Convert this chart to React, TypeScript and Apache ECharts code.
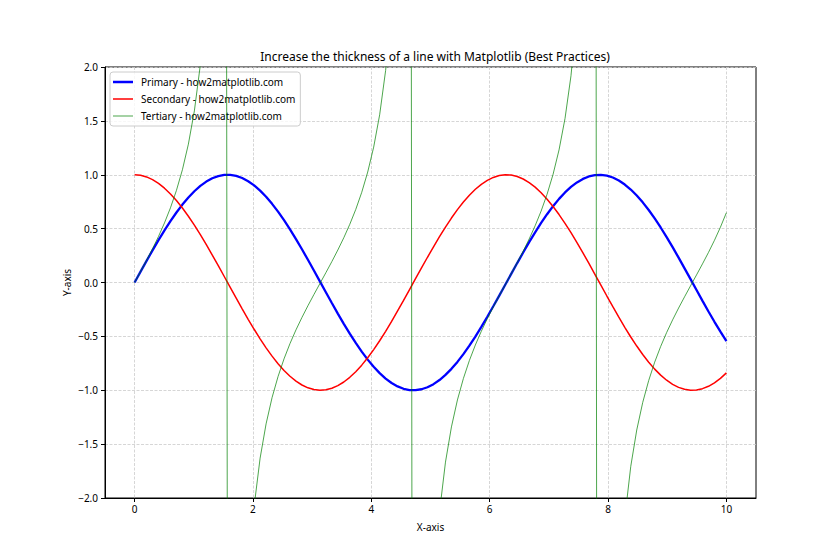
import React, { useEffect, useRef } from "react";
import * as echarts from "echarts";

const TITLE = "Increase the thickness of a line with Matplotlib (Best Practices)";
const X_LABEL = "X-axis";
const Y_LABEL = "Y-axis";
const SERIES_NAMES = [
  "Primary - how2matplotlib.com",
  "Secondary - how2matplotlib.com",
  "Tertiary - how2matplotlib.com",
];
const X_TICKS = [0, 2, 4, 6, 8, 10];

const X = [
  0, 0.101, 0.202, 0.303, 0.404, 0.505, 0.606, 0.707, 0.808, 0.909,
  1.01, 1.111, 1.212, 1.313, 1.414, 1.515, 1.616, 1.717, 1.818, 1.919,
  2.02, 2.121, 2.222, 2.323, 2.424, 2.525, 2.626, 2.727, 2.828, 2.929,
  3.03, 3.131, 3.232, 3.333, 3.434, 3.535, 3.636, 3.737, 3.838, 3.939,
  4.04, 4.141, 4.242, 4.343, 4.444, 4.545, 4.646, 4.747, 4.848, 4.949,
  5.051, 5.152, 5.253, 5.354, 5.455, 5.556, 5.657, 5.758, 5.859, 5.96,
  6.061, 6.162, 6.263, 6.364, 6.465, 6.566, 6.667, 6.768, 6.869, 6.97,
  7.071, 7.172, 7.273, 7.374, 7.475, 7.576, 7.677, 7.778, 7.879, 7.98,
  8.081, 8.182, 8.283, 8.384, 8.485, 8.586, 8.687, 8.788, 8.889, 8.99,
  9.091, 9.192, 9.293, 9.394, 9.495, 9.596, 9.697, 9.798, 9.899, 10,
];

const PRIMARY = [
  0, 0.1008, 0.2006, 0.2984, 0.3931, 0.4839, 0.5696, 0.6496, 0.723, 0.789,
  0.8468, 0.8962, 0.9364, 0.9671, 0.9878, 0.9985, 0.999, 0.9894, 0.9697, 0.9399,
  0.9009, 0.8524, 0.7953, 0.73, 0.6575, 0.5782, 0.4928, 0.4025, 0.3082, 0.2107,
  0.1111, 0.0103, -0.0906, -0.1905, -0.2886, -0.3837, -0.475, -0.5612, -0.6417, -0.7158,
  -0.7825, -0.8414, -0.8915, -0.9325, -0.9643, -0.9861, -0.998, -0.9994, -0.9908, -0.9721,
  -0.9435, -0.9053, -0.8575, -0.8014, -0.7369, -0.6651, -0.5864, -0.5017, -0.412, -0.318,
  -0.2208, -0.1213, -0.0206, 0.0803, 0.1804, 0.2787, 0.3742, 0.4658, 0.5526, 0.6338,
  0.7085, 0.7761, 0.8358, 0.8868, 0.9288, 0.9615, 0.9843, 0.9972, 0.9997, 0.9921,
  0.9743, 0.9467, 0.9094, 0.8627, 0.8076, 0.7439, 0.6728, 0.5946, 0.5106, 0.4213,
  0.3277, 0.2308, 0.1315, 0.0309, -0.07, -0.1704, -0.2688, -0.3646, -0.4566, -0.544,
];

const SECONDARY = [
  1, 0.9949, 0.9797, 0.9544, 0.9195, 0.8751, 0.8219, 0.7602, 0.6909, 0.6145,
  0.5318, 0.4437, 0.3511, 0.2549, 0.1561, 0.0556, -0.0454, -0.1456, -0.2443, -0.3414,
  -0.434, -0.5229, -0.6062, -0.6834, -0.7535, -0.8159, -0.8702, -0.9154, -0.9513, -0.9775,
  -0.9938, -0.9999, -0.9959, -0.9817, -0.9575, -0.9235, -0.88, -0.8277, -0.767, -0.6983,
  -0.6227, -0.5405, -0.453, -0.361, -0.2641, -0.166, -0.0658, 0.0351, 0.1355, 0.2343,
  0.3315, 0.4248, 0.5145, 0.5981, 0.676, 0.7467, 0.81, 0.865, 0.9112, 0.9481,
  0.9753, 0.9926, 0.9998, 0.9968, 0.9836, 0.9604, 0.9274, 0.8849, 0.8335, 0.7735,
  0.7057, 0.6306, 0.549, 0.4622, 0.3704, 0.2746, 0.1765, 0.0762, -0.0248, -0.1254,
  -0.2243, -0.322, -0.4159, -0.5057, -0.5898, -0.6683, -0.7398, -0.804, -0.8598, -0.9069,
  -0.9448, -0.973, -0.9913, -0.9995, -0.9975, -0.9854, -0.9632, -0.9312, -0.8897, -0.8391,
];

const TERTIARY = [
  0, 0.1014, 0.2048, 0.3127, 0.4275, 0.5529, 0.693, 0.8545, 1.0465, 1.284,
  1.5925, 2.02, 2.667, 3.794, 6.33, 17.96, -22.0, -6.8, -3.969, -2.753,
  -2.076, -1.63, -1.312, -1.068, -0.8726, -0.7087, -0.5663, -0.4397, -0.324, -0.2156,
  -0.1118, -0.0103, 0.091, 0.1941, 0.3014, 0.4155, 0.5398, 0.678, 0.8366, 1.0251,
  1.2566, 1.5567, 1.968, 2.583, 3.652, 5.94, 15.17, -28.5, -7.31, -4.149,
  -2.846, -2.131, -1.667, -1.34, -1.09, -0.8907, -0.724, -0.58, -0.4521, -0.3354,
  -0.2264, -0.1222, -0.0206, 0.0806, 0.1834, 0.2902, 0.4035, 0.5264, 0.663, 0.8194,
  1.004, 1.2307, 1.5224, 1.919, 2.508, 3.501, 5.577, 13.09, -40.3, -7.91,
  -4.344, -2.94, -2.187, -1.706, -1.369, -1.113, -0.9094, -0.7395, -0.5939, -0.4646,
  -0.3468, -0.2372, -0.1327, -0.0309, 0.0702, 0.1729, 0.2791, 0.3915, 0.5132, 0.6484,
];

const FONT = "Noto Sans";
const COLORS = ["#0000ff", "#ff0000", "#008000"];
const WIDTHS = [2.3, 1.5, 1];
const OPACITIES = [1, 1, 0.7];

const pairs = (ys: number[]) => X.map((x, i) => [x, ys[i]]);
const fmt = (v: number, d: number) => v.toFixed(d).replace("-", "\u2212");

// legend icon: a horizontal bar of the given thickness inside a 20x12 box
const lineIcon = (w: number) => {
  const y0 = 6 - w / 2;
  return `path://M0,0h0.01v0.01h-0.01z M0,${y0}h20v${w}h-20z M19.99,11.99h0.01v0.01h-0.01z`;
};

export default function App() {
  const ref = useRef<HTMLDivElement>(null);
  useEffect(() => {
    if (!ref.current) return;
    const chart = echarts.init(ref.current, null, { renderer: "svg" });
    const axisCommon = {
      axisLine: { show: true, onZero: false, lineStyle: { color: "#000", width: 1 } },
      axisTick: { show: true, inside: false, length: 4, lineStyle: { color: "#000", width: 1 } },
      splitLine: { show: true, lineStyle: { color: "#cccccc", width: 0.8, type: [3, 1.5] } },
      nameTextStyle: { fontFamily: FONT, fontSize: 10, color: "#000" },
      nameMoveOverlap: false,
    };
    const series = [PRIMARY, SECONDARY, TERTIARY].map((ys, k) => ({
      name: SERIES_NAMES[k],
      type: "line",
      data: pairs(ys),
      symbol: "none",
      lineStyle: { color: COLORS[k], width: WIDTHS[k], opacity: OPACITIES[k] },
      itemStyle: { color: COLORS[k], opacity: OPACITIES[k] },
      z: 3 + k,
    }));
    chart.setOption({
      animation: false,
      backgroundColor: "#fff",
      title: {
        text: TITLE,
        left: 430,
        top: 45,
        textAlign: "center",
        textStyle: { fontFamily: FONT, fontSize: 12, fontWeight: "normal", color: "#000" },
      },
      grid: {
        left: 105,
        right: 84,
        top: 67,
        bottom: 62,
        show: true,
        borderColor: "#000",
        borderWidth: 1,
        backgroundColor: "transparent",
      },
      legend: {
        orient: "vertical",
        left: 110,
        top: 72,
        padding: [4, 5, 4, 3],
        itemWidth: 20,
        itemHeight: 12,
        itemGap: 5,
        backgroundColor: "rgba(255,255,255,0.8)",
        borderColor: "#cccccc",
        borderWidth: 1,
        borderRadius: 3,
        textStyle: { fontFamily: FONT, fontSize: 10, color: "#000", padding: [0, 0, 0, 3] },
        data: SERIES_NAMES.map((name, k) => ({ name, icon: lineIcon(WIDTHS[k]) })),
      },
      xAxis: {
        type: "value",
        min: -0.5,
        max: 10.5,
        name: X_LABEL,
        nameLocation: "middle",
        nameGap: 24,
        ...axisCommon,
        axisTick: { ...axisCommon.axisTick, customValues: X_TICKS },
        axisLabel: {
          customValues: X_TICKS,
          fontFamily: FONT,
          fontSize: 10,
          color: "#000",
          margin: 6,
          formatter: (v: number) => fmt(v, 0),
        },
      },
      yAxis: {
        type: "value",
        min: -2,
        max: 2,
        interval: 0.5,
        name: Y_LABEL,
        nameLocation: "middle",
        nameGap: 33,
        ...axisCommon,
        axisLabel: {
          fontFamily: FONT,
          fontSize: 10,
          color: "#000",
          margin: 7,
          showMinLabel: true,
          showMaxLabel: true,
          formatter: (v: number) => fmt(v, 1),
        },
      },
      series,
    });
    return () => chart.dispose();
  }, []);
  return <div ref={ref} style={{ width: 840, height: 560, position: "absolute", left: 0, top: 0 }} />;
}
